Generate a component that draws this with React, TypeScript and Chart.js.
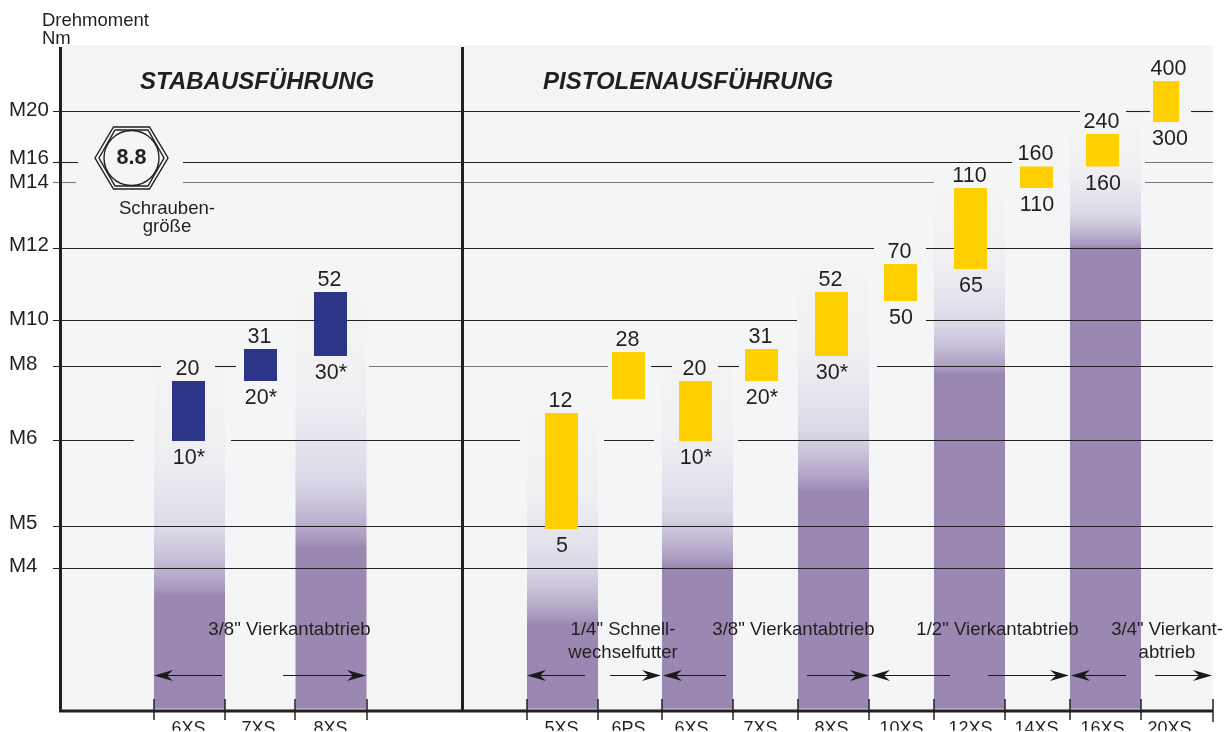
import React, { useEffect, useRef } from "react";
import { Chart, registerables, LinearScale } from "chart.js";

// ---------- data ----------
const stabCategories = ["6XS", "7XS", "8XS"];
const pistolCategories = ["5XS", "6PS", "6XS", "7XS", "8XS", "10XS", "12XS", "14XS", "16XS", "20XS"];
const categories = [...stabCategories, ...pistolCategories];

const stabHigh = [20, 31, 52];
const stabLow = [10, 20, 30];
const stabLowLabels = ["10*", "20*", "30*"];

const pistolHigh = [12, 28, 20, 31, 52, 70, 110, 160, 240, 400];
const pistolLow = [5, 15, 10, 20, 30, 50, 65, 110, 160, 300];
const pistolLowLabels = ["5", "", "10*", "20*", "30*", "50", "65", "110", "160", "300"];

const boltSizes = ["M4", "M5", "M6", "M8", "M10", "M12", "M14", "M16", "M20"];
const boltTorque = [3, 5.2, 9.9, 24, 38.5, 78.4, 124, 171, 327];

// fading columns behind the bars: slot on the band axis, fade top and solid top (Nm)
const columnSlots = [0.5, 2.5, 4.5, 6.5, 8.5, 10.5, 12.5];
const columnTop = [30, 52, 13, 30, 70, 110, 300];
const columnSolid = [2.6, 4, 2.2, 3, 7.1, 21.6, 78.4];
const axisBase = 1;

const driveLabels = [
  { lines: ['3/8" Vierkantabtrieb'], x: 289.5 },
  { lines: ['1/4" Schnell-', "wechselfutter"], x: 623 },
  { lines: ['3/8" Vierkantabtrieb'], x: 793.5 },
  { lines: ['1/2" Vierkantabtrieb'], x: 997.5 },
  { lines: ['3/4" Vierkant-', "abtrieb"], x: 1167 },
];

// ---------- axis tables (torque -> canvas position; the printed axis is not regular) ----------
const yKnotValues = [1, 3, 5, 5.2, 9.9, 10, 12, 15, 20, 24, 28, 30, 31, 38.5, 50, 52, 65, 70, 78.4, 110, 124, 160, 171, 240, 300, 327, 400, 540];
const yKnotPixels = [710, 567.5, 529, 526, 439.5, 441, 413, 399, 381, 365.5, 352, 356, 349, 320, 301, 292, 269, 264, 248, 188, 182, 166.5, 162, 134, 122, 111, 81, 45];
const xKnotValues = categories.map((_, i) => i);
const xKnotPixels = [188.5, 260.5, 330.5, 561.5, 628.5, 695.5, 761.5, 831.5, 900.5, 970.5, 1036.5, 1102.5, 1169.5];
const bandEdges = [154, 225, 295, 367, 527, 598, 662, 733, 798, 869, 934, 1005, 1070, 1141, 1213];
const yLabelNudge = [-1, -3, -1.5, -1, -1, -3, 0, -4, -1];
const xLabelNudge = [0, -2, 0, 0, 0, -4, -1, 0, 1, 0, 0, 0, 0];

// gridline pieces per bolt size: [from, to, grey?]
const gridPieces: Record<string, [number, number, boolean?][]> = {
  M20: [[53, 1080], [1126, 1150], [1191, 1213]],
  M16: [[53, 78], [183, 1012], [1145, 1213, true]],
  M14: [[53, 76, true], [183, 934, true], [1145, 1213, true]],
  M12: [[53, 874], [926, 1213]],
  M10: [[53, 797], [926, 1213]],
  M8: [[53, 161], [215, 236], [369, 608, true], [651, 672], [718, 739], [877, 1213]],
  M6: [[53, 134], [231, 520], [604, 654], [738, 1213]],
  M5: [[53, 1213]],
  M4: [[53, 1213]],
};
const arrows: [number, number][] = [
  [222, 154], [283, 366], [585, 527], [610, 661], [726, 663], [807, 869],
  [950, 871], [988, 1069], [1126, 1071], [1155, 1212],
];

const FONT = '"Liberation Sans", Arial, sans-serif';
const INK = "#231f20";
const PANEL = "#f4f5f7";

function interp(v: number, xs: number[], ys: number[]) {
  if (v <= xs[0]) return ys[0];
  for (let i = 1; i < xs.length; i++) {
    if (v <= xs[i]) return ys[i - 1] + ((v - xs[i - 1]) / (xs[i] - xs[i - 1])) * (ys[i] - ys[i - 1]);
  }
  return ys[ys.length - 1];
}

class KnotScale extends LinearScale {
  static id = "knot";
  static defaults = { ...(LinearScale as any).defaults };
  buildTicks() {
    return ((this as any).options.tickValues || []).map((value: number) => ({ value }));
  }
  getPixelForValue(v: number) {
    const o = (this as any).options;
    return interp(v, o.knotValues, o.knotPixels);
  }
  getValueForPixel(p: number) {
    const o = (this as any).options;
    let best = o.knotValues[0];
    let dist = Infinity;
    o.knotPixels.forEach((k: number, i: number) => {
      if (Math.abs(k - p) < dist) { dist = Math.abs(k - p); best = o.knotValues[i]; }
    });
    return best;
  }
  _computeLabelItems(area: any) {
    // @ts-ignore
    const items = super._computeLabelItems(area);
    const o = (this as any).options;
    const axisIdx = (this as any).axis === "x" ? 0 : 1;
    items.forEach((it: any, i: number) => {
      const t = it.options.translation;
      if (o.labelNudge) t[axisIdx] += o.labelNudge[i] || 0;
      if (o.labelShift) t[1 - axisIdx] += o.labelShift;
    });
    return items;
  }
}

Chart.register(...registerables, KnotScale as any);

function columnGradient(c: any) {
  const chart = c.chart;
  const i = c.dataIndex;
  const y = chart.scales.y;
  if (i === undefined || !y) return "#9a87b2";
  const y0 = y.getPixelForValue(columnSolid[i]);
  const y1 = y.getPixelForValue(columnTop[i]);
  const g = chart.ctx.createLinearGradient(0, y0, 0, y1);
  g.addColorStop(0, "#9a87b2");
  g.addColorStop(0.03, "#a798bd");
  g.addColorStop(0.09, "#b8accb");
  g.addColorStop(0.17, "#cac3da");
  g.addColorStop(0.27, "#dbd8e7");
  g.addColorStop(0.43, "#e6e5ee");
  g.addColorStop(0.62, "#f0f0f3");
  g.addColorStop(1, "#f4f4f4");
  return g;
}

const drawing = {
  id: "drawing",
  beforeDraw(chart: any) {
    const ctx = chart.ctx;
    ctx.save();
    ctx.fillStyle = PANEL;
    ctx.fillRect(60, 45, 1153, 665);
    ctx.restore();
  },
  afterDatasetDraw(chart: any, args: any) {
    if (args.index !== 0) return;
    const ctx = chart.ctx;
    const y = chart.scales.y;
    ctx.save();
    boltSizes.forEach((name, i) => {
      const py = Math.round(y.getPixelForValue(boltTorque[i])) + 0.5;
      gridPieces[name].forEach(([a, b, grey]) => {
        ctx.strokeStyle = grey ? "#77787a" : "#222222";
        ctx.lineWidth = 1.1;
        ctx.beginPath();
        ctx.moveTo(a, py);
        ctx.lineTo(b, py);
        ctx.stroke();
      });
    });
    ctx.restore();
  },
  afterDatasetsDraw(chart: any) {
    const ctx = chart.ctx;
    const band = chart.scales.xBand;
    ctx.save();

    // axes frame
    ctx.strokeStyle = INK;
    ctx.lineWidth = 3;
    ctx.beginPath();
    ctx.moveTo(60.5, 47);
    ctx.lineTo(60.5, 711);
    ctx.lineTo(1213, 711);
    ctx.moveTo(462.5, 47);
    ctx.lineTo(462.5, 711);
    ctx.stroke();

    // column edge ticks
    ctx.lineWidth = 1.5;
    bandEdges.forEach((_, i) => {
      const px = band.getPixelForValue(i);
      ctx.beginPath();
      ctx.moveTo(px, 699);
      ctx.lineTo(px, i === bandEdges.length - 1 ? 722 : 720);
      ctx.stroke();
    });

    // arrows
    ctx.fillStyle = "#1a1a1a";
    ctx.strokeStyle = "#1a1a1a";
    arrows.forEach(([from, to]) => {
      const d = to > from ? 1 : -1;
      const yy = 675.5;
      ctx.lineWidth = 1;
      ctx.beginPath();
      ctx.moveTo(from, yy);
      ctx.lineTo(to - d * 8, yy);
      ctx.stroke();
      ctx.beginPath();
      ctx.moveTo(to, yy);
      ctx.lineTo(to - d * 19, yy - 5.5);
      ctx.lineTo(to - d * 13, yy);
      ctx.lineTo(to - d * 19, yy + 5.5);
      ctx.closePath();
      ctx.fill();
    });

    // value labels on the bars
    ctx.fillStyle = INK;
    ctx.font = `21.5px ${FONT}`;
    ctx.textAlign = "center";
    const label = (dsIndex: number, highs: number[], lows: string[]) => {
      chart.getDatasetMeta(dsIndex).data.forEach((bar: any, i: number) => {
        const cx = bar.x;
        ctx.textBaseline = "alphabetic";
        ctx.fillText(String(highs[i]), cx - 1, bar.y - 6.5);
        if (lows[i]) ctx.fillText(lows[i], cx + 0.5, bar.base + 23);
      });
    };
    label(1, stabHigh, stabLowLabels);
    label(2, pistolHigh, pistolLowLabels);

    // section titles
    ctx.textAlign = "left";
    ctx.font = `italic bold 24px ${FONT}`;
    ctx.fillText("STABAUSFÜHRUNG", 140, 89);
    ctx.fillText("PISTOLENAUSFÜHRUNG", 543, 89);

    // axis title
    ctx.font = `18.5px ${FONT}`;
    ctx.fillText("Drehmoment", 42, 26);
    ctx.fillText("Nm", 42, 44);

    // drive labels
    ctx.textAlign = "center";
    ctx.font = `18.6px ${FONT}`;
    driveLabels.forEach((d) => {
      d.lines.forEach((line, i) => ctx.fillText(line, d.x, 634.5 + i * 23));
    });

    // bolt glyph
    const cx = 131.5, cy = 158;
    ctx.strokeStyle = INK;
    ctx.lineWidth = 1.4;
    const hex = (rx: number, ry: number, dx: number) => {
      ctx.beginPath();
      ctx.moveTo(cx - rx, cy);
      ctx.lineTo(cx - dx, cy - ry);
      ctx.lineTo(cx + dx, cy - ry);
      ctx.lineTo(cx + rx, cy);
      ctx.lineTo(cx + dx, cy + ry);
      ctx.lineTo(cx - dx, cy + ry);
      ctx.closePath();
      ctx.stroke();
    };
    hex(36.5, 31, 18);
    hex(32.5, 28, 16.5);
    ctx.fillStyle = PANEL;
    ctx.beginPath();
    ctx.arc(cx, cy, 27.5, 0, Math.PI * 2);
    ctx.fill();
    ctx.stroke();
    ctx.fillStyle = INK;
    ctx.font = `bold 21.5px ${FONT}`;
    ctx.fillText("8.8", 131.5, 164);
    ctx.font = `18.6px ${FONT}`;
    ctx.fillText("Schrauben-", 167, 214);
    ctx.fillText("größe", 167, 232);

    ctx.restore();
  },
};

export default function App() {
  const ref = useRef<HTMLCanvasElement>(null);
  useEffect(() => {
    if (!ref.current) return;
    const chart = new Chart(ref.current, {
      type: "bar",
      data: {
        labels: categories,
        datasets: [
          {
            label: "Säulen",
            xAxisID: "xBand",
            order: 3,
            grouped: false,
            inflateAmount: 0,
            barThickness: 71,
            backgroundColor: columnGradient,
            borderWidth: 0,
            data: columnSlots.map((slot, i) => ({ x: slot, y: [axisBase, columnTop[i]] })),
          },
          {
            label: "Stabausführung",
            order: 2,
            grouped: false,
            inflateAmount: 0,
            barThickness: 33,
            backgroundColor: "#2d3589",
            borderWidth: 0,
            data: stabHigh.map((h, i) => ({ x: i, y: [stabLow[i], h] })),
          },
          {
            label: "Pistolenausführung",
            order: 1,
            grouped: false,
            inflateAmount: 0,
            barThickness: 33,
            backgroundColor: "#ffd000",
            borderWidth: 0,
            data: pistolHigh.map((h, i) => ({ x: i + stabHigh.length, y: [pistolLow[i], h] })),
          },
        ] as any,
      },
      options: {
        animation: false,
        responsive: false,
        events: [],
        layout: { padding: { top: 45, right: 14, left: 0, bottom: 0 } },
        plugins: { legend: { display: false }, tooltip: { enabled: false } },
        scales: {
          x: {
            type: "knot",
            min: 0,
            max: categories.length - 1,
            knotValues: xKnotValues,
            knotPixels: xKnotPixels,
            tickValues: xKnotValues,
            labelNudge: xLabelNudge,
            grid: { display: false, drawTicks: false },
            border: { display: false },
            afterFit: (s: any) => { s.height = 22; },
            ticks: {
              autoSkip: false,
              maxRotation: 0,
              padding: 10,
              color: INK,
              font: { family: FONT, size: 18 },
              callback: (_v: any, i: number) => categories[i],
            },
          },
          xBand: {
            type: "knot",
            axis: "x",
            display: false,
            min: 0,
            max: bandEdges.length - 1,
            knotValues: bandEdges.map((_, i) => i),
            knotPixels: bandEdges,
            tickValues: [],
          },
          y: {
            type: "knot",
            min: axisBase,
            max: 540,
            knotValues: yKnotValues,
            knotPixels: yKnotPixels,
            tickValues: boltTorque,
            labelNudge: yLabelNudge,
            labelShift: 9,
            grid: { display: false, drawTicks: false },
            border: { display: false },
            afterFit: (s: any) => { s.width = 60; },
            ticks: {
              autoSkip: false,
              crossAlign: "far",
              padding: 11,
              color: INK,
              font: { family: FONT, size: 20.5 },
              callback: (_v: any, i: number) => boltSizes[i],
            },
          },
        },
      } as any,
      plugins: [drawing],
    });
    return () => chart.destroy();
  }, []);
  return (
    <div style={{ position: "absolute", left: 0, top: 0, width: 1227, height: 732, overflow: "hidden", background: "#fff" }}>
      <canvas ref={ref} width={1227} height={732} style={{ display: "block" }} />
    </div>
  );
}
